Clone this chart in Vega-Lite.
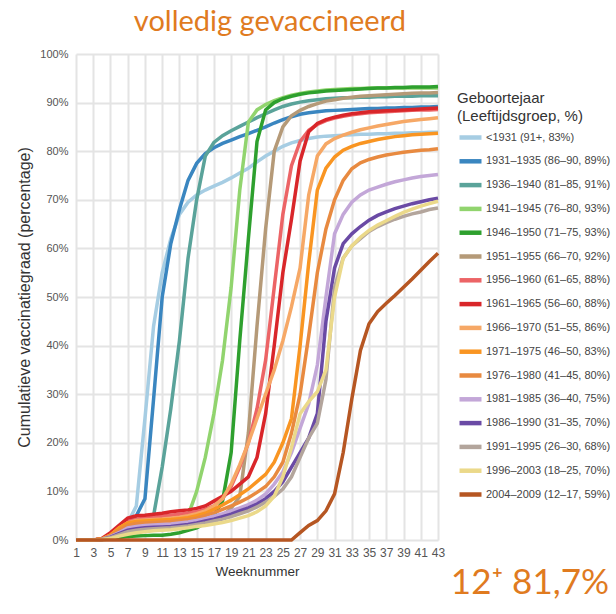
{
"$schema":"https://vega.github.io/schema/vega-lite/v6.json",
"padding":{"left":16,"top":8,"right":5,"bottom":5},
"config":{"view":{"stroke":null},"font":"Liberation Sans"},
"title":{"text":"volledig gevaccineerd","font":"Lato","fontSize":29,"fontWeight":"normal","color":"#e07b1f","anchor":"start","dx":117,"offset":11},
"vconcat":[{
"width":362,"height":486,
"title":{"text":"12⁺ 81,7%","orient":"bottom","anchor":"end","frame":"group","font":"Lato","fontSize":35,"fontWeight":"normal","color":"#e07b1f","dx":171,"offset":-12},
"data":{"values":[
{"s":1,"w":1,"v":0},{"s":1,"w":2,"v":0},{"s":1,"w":3,"v":0},{"s":1,"w":4,"v":0.2},{"s":1,"w":5,"v":0.5},{"s":1,"w":6,"v":1.5},{"s":1,"w":7,"v":3.5},{"s":1,"w":8,"v":7},{"s":1,"w":9,"v":25},{"s":1,"w":10,"v":44},{"s":1,"w":11,"v":55},{"s":1,"w":12,"v":62},{"s":1,"w":13,"v":67},{"s":1,"w":14,"v":69.5},{"s":1,"w":15,"v":71},{"s":1,"w":16,"v":72},{"s":1,"w":17,"v":72.8},{"s":1,"w":18,"v":73.6},{"s":1,"w":19,"v":74.5},{"s":1,"w":20,"v":75.5},{"s":1,"w":21,"v":76.5},{"s":1,"w":22,"v":77.8},{"s":1,"w":23,"v":79},{"s":1,"w":24,"v":80},{"s":1,"w":25,"v":81},{"s":1,"w":26,"v":81.7},{"s":1,"w":27,"v":82.2},{"s":1,"w":28,"v":82.6},{"s":1,"w":29,"v":82.9},{"s":1,"w":30,"v":83.1},{"s":1,"w":31,"v":83.2},{"s":1,"w":32,"v":83.3},{"s":1,"w":33,"v":83.4},{"s":1,"w":34,"v":83.5},{"s":1,"w":35,"v":83.5},{"s":1,"w":36,"v":83.6},{"s":1,"w":37,"v":83.6},{"s":1,"w":38,"v":83.7},{"s":1,"w":39,"v":83.7},{"s":1,"w":40,"v":83.8},{"s":1,"w":41,"v":83.8},{"s":1,"w":42,"v":83.9},{"s":1,"w":43,"v":83.9},
{"s":2,"w":1,"v":0},{"s":2,"w":2,"v":0},{"s":2,"w":3,"v":0},{"s":2,"w":4,"v":0.2},{"s":2,"w":5,"v":0.8},{"s":2,"w":6,"v":2},{"s":2,"w":7,"v":3.3},{"s":2,"w":8,"v":5},{"s":2,"w":9,"v":8.5},{"s":2,"w":10,"v":29},{"s":2,"w":11,"v":50},{"s":2,"w":12,"v":61},{"s":2,"w":13,"v":68},{"s":2,"w":14,"v":74},{"s":2,"w":15,"v":77.5},{"s":2,"w":16,"v":79.5},{"s":2,"w":17,"v":80.7},{"s":2,"w":18,"v":81.6},{"s":2,"w":19,"v":82.3},{"s":2,"w":20,"v":83},{"s":2,"w":21,"v":83.6},{"s":2,"w":22,"v":84.3},{"s":2,"w":23,"v":85},{"s":2,"w":24,"v":85.8},{"s":2,"w":25,"v":86.5},{"s":2,"w":26,"v":87.1},{"s":2,"w":27,"v":87.6},{"s":2,"w":28,"v":87.9},{"s":2,"w":29,"v":88.1},{"s":2,"w":30,"v":88.3},{"s":2,"w":31,"v":88.4},{"s":2,"w":32,"v":88.5},{"s":2,"w":33,"v":88.6},{"s":2,"w":34,"v":88.7},{"s":2,"w":35,"v":88.8},{"s":2,"w":36,"v":88.8},{"s":2,"w":37,"v":88.9},{"s":2,"w":38,"v":88.9},{"s":2,"w":39,"v":89},{"s":2,"w":40,"v":89},{"s":2,"w":41,"v":89.1},{"s":2,"w":42,"v":89.1},{"s":2,"w":43,"v":89.2},
{"s":3,"w":1,"v":0},{"s":3,"w":2,"v":0},{"s":3,"w":3,"v":0},{"s":3,"w":4,"v":0.2},{"s":3,"w":5,"v":0.7},{"s":3,"w":6,"v":1.5},{"s":3,"w":7,"v":2.2},{"s":3,"w":8,"v":2.7},{"s":3,"w":9,"v":3.2},{"s":3,"w":10,"v":5},{"s":3,"w":11,"v":15},{"s":3,"w":12,"v":27},{"s":3,"w":13,"v":41},{"s":3,"w":14,"v":58},{"s":3,"w":15,"v":70},{"s":3,"w":16,"v":79},{"s":3,"w":17,"v":81.8},{"s":3,"w":18,"v":83.2},{"s":3,"w":19,"v":84.2},{"s":3,"w":20,"v":85.1},{"s":3,"w":21,"v":86},{"s":3,"w":22,"v":86.9},{"s":3,"w":23,"v":87.7},{"s":3,"w":24,"v":88.5},{"s":3,"w":25,"v":89.2},{"s":3,"w":26,"v":89.7},{"s":3,"w":27,"v":90.1},{"s":3,"w":28,"v":90.4},{"s":3,"w":29,"v":90.6},{"s":3,"w":30,"v":90.8},{"s":3,"w":31,"v":90.9},{"s":3,"w":32,"v":91},{"s":3,"w":33,"v":91},{"s":3,"w":34,"v":91.1},{"s":3,"w":35,"v":91.1},{"s":3,"w":36,"v":91.2},{"s":3,"w":37,"v":91.2},{"s":3,"w":38,"v":91.3},{"s":3,"w":39,"v":91.3},{"s":3,"w":40,"v":91.3},{"s":3,"w":41,"v":91.4},{"s":3,"w":42,"v":91.4},{"s":3,"w":43,"v":91.4},
{"s":4,"w":1,"v":0},{"s":4,"w":2,"v":0},{"s":4,"w":3,"v":0},{"s":4,"w":4,"v":0.2},{"s":4,"w":5,"v":0.5},{"s":4,"w":6,"v":1},{"s":4,"w":7,"v":1.5},{"s":4,"w":8,"v":2},{"s":4,"w":9,"v":2.2},{"s":4,"w":10,"v":2.4},{"s":4,"w":11,"v":2.6},{"s":4,"w":12,"v":2.9},{"s":4,"w":13,"v":3.4},{"s":4,"w":14,"v":5},{"s":4,"w":15,"v":10},{"s":4,"w":16,"v":17},{"s":4,"w":17,"v":26},{"s":4,"w":18,"v":37},{"s":4,"w":19,"v":52},{"s":4,"w":20,"v":72},{"s":4,"w":21,"v":86},{"s":4,"w":22,"v":88.5},{"s":4,"w":23,"v":89.6},{"s":4,"w":24,"v":90.4},{"s":4,"w":25,"v":91},{"s":4,"w":26,"v":91.5},{"s":4,"w":27,"v":91.9},{"s":4,"w":28,"v":92.2},{"s":4,"w":29,"v":92.4},{"s":4,"w":30,"v":92.6},{"s":4,"w":31,"v":92.7},{"s":4,"w":32,"v":92.8},{"s":4,"w":33,"v":92.9},{"s":4,"w":34,"v":92.9},{"s":4,"w":35,"v":93},{"s":4,"w":36,"v":93},{"s":4,"w":37,"v":93},{"s":4,"w":38,"v":93},{"s":4,"w":39,"v":93},{"s":4,"w":40,"v":93},{"s":4,"w":41,"v":93},{"s":4,"w":42,"v":93},{"s":4,"w":43,"v":93},
{"s":5,"w":1,"v":0},{"s":5,"w":2,"v":0},{"s":5,"w":3,"v":0},{"s":5,"w":4,"v":0.1},{"s":5,"w":5,"v":0.2},{"s":5,"w":6,"v":0.5},{"s":5,"w":7,"v":0.7},{"s":5,"w":8,"v":0.8},{"s":5,"w":9,"v":0.9},{"s":5,"w":10,"v":1},{"s":5,"w":11,"v":1},{"s":5,"w":12,"v":1.2},{"s":5,"w":13,"v":1.5},{"s":5,"w":14,"v":2},{"s":5,"w":15,"v":2.5},{"s":5,"w":16,"v":3.5},{"s":5,"w":17,"v":5},{"s":5,"w":18,"v":8},{"s":5,"w":19,"v":18},{"s":5,"w":20,"v":41},{"s":5,"w":21,"v":62},{"s":5,"w":22,"v":82},{"s":5,"w":23,"v":88.5},{"s":5,"w":24,"v":90},{"s":5,"w":25,"v":90.8},{"s":5,"w":26,"v":91.3},{"s":5,"w":27,"v":91.7},{"s":5,"w":28,"v":92},{"s":5,"w":29,"v":92.2},{"s":5,"w":30,"v":92.4},{"s":5,"w":31,"v":92.5},{"s":5,"w":32,"v":92.6},{"s":5,"w":33,"v":92.7},{"s":5,"w":34,"v":92.8},{"s":5,"w":35,"v":92.9},{"s":5,"w":36,"v":93},{"s":5,"w":37,"v":93},{"s":5,"w":38,"v":93.1},{"s":5,"w":39,"v":93.1},{"s":5,"w":40,"v":93.2},{"s":5,"w":41,"v":93.2},{"s":5,"w":42,"v":93.2},{"s":5,"w":43,"v":93.3},
{"s":6,"w":1,"v":0},{"s":6,"w":2,"v":0},{"s":6,"w":3,"v":0},{"s":6,"w":4,"v":0.2},{"s":6,"w":5,"v":0.5},{"s":6,"w":6,"v":1.2},{"s":6,"w":7,"v":1.8},{"s":6,"w":8,"v":2},{"s":6,"w":9,"v":2.2},{"s":6,"w":10,"v":2.3},{"s":6,"w":11,"v":2.4},{"s":6,"w":12,"v":2.5},{"s":6,"w":13,"v":2.7},{"s":6,"w":14,"v":2.9},{"s":6,"w":15,"v":3.2},{"s":6,"w":16,"v":3.6},{"s":6,"w":17,"v":4.2},{"s":6,"w":18,"v":5},{"s":6,"w":19,"v":6.5},{"s":6,"w":20,"v":9},{"s":6,"w":21,"v":22},{"s":6,"w":22,"v":44},{"s":6,"w":23,"v":64},{"s":6,"w":24,"v":80},{"s":6,"w":25,"v":85},{"s":6,"w":26,"v":87.3},{"s":6,"w":27,"v":88.4},{"s":6,"w":28,"v":89.2},{"s":6,"w":29,"v":89.8},{"s":6,"w":30,"v":90.3},{"s":6,"w":31,"v":90.6},{"s":6,"w":32,"v":90.9},{"s":6,"w":33,"v":91.1},{"s":6,"w":34,"v":91.3},{"s":6,"w":35,"v":91.4},{"s":6,"w":36,"v":91.5},{"s":6,"w":37,"v":91.6},{"s":6,"w":38,"v":91.7},{"s":6,"w":39,"v":91.8},{"s":6,"w":40,"v":91.9},{"s":6,"w":41,"v":92},{"s":6,"w":42,"v":92},{"s":6,"w":43,"v":92.1},
{"s":7,"w":1,"v":0},{"s":7,"w":2,"v":0},{"s":7,"w":3,"v":0},{"s":7,"w":4,"v":0.2},{"s":7,"w":5,"v":1},{"s":7,"w":6,"v":2.5},{"s":7,"w":7,"v":3.8},{"s":7,"w":8,"v":4.3},{"s":7,"w":9,"v":4.5},{"s":7,"w":10,"v":4.7},{"s":7,"w":11,"v":4.9},{"s":7,"w":12,"v":5.1},{"s":7,"w":13,"v":5.3},{"s":7,"w":14,"v":5.5},{"s":7,"w":15,"v":5.8},{"s":7,"w":16,"v":6.3},{"s":7,"w":17,"v":7},{"s":7,"w":18,"v":8.5},{"s":7,"w":19,"v":11},{"s":7,"w":20,"v":15},{"s":7,"w":21,"v":20},{"s":7,"w":22,"v":27},{"s":7,"w":23,"v":37},{"s":7,"w":24,"v":52},{"s":7,"w":25,"v":67},{"s":7,"w":26,"v":77},{"s":7,"w":27,"v":82},{"s":7,"w":28,"v":84.3},{"s":7,"w":29,"v":85.5},{"s":7,"w":30,"v":86.3},{"s":7,"w":31,"v":86.8},{"s":7,"w":32,"v":87.2},{"s":7,"w":33,"v":87.5},{"s":7,"w":34,"v":87.7},{"s":7,"w":35,"v":87.9},{"s":7,"w":36,"v":88},{"s":7,"w":37,"v":88.1},{"s":7,"w":38,"v":88.2},{"s":7,"w":39,"v":88.3},{"s":7,"w":40,"v":88.4},{"s":7,"w":41,"v":88.5},{"s":7,"w":42,"v":88.5},{"s":7,"w":43,"v":88.6},
{"s":8,"w":1,"v":0},{"s":8,"w":2,"v":0},{"s":8,"w":3,"v":0},{"s":8,"w":4,"v":0.3},{"s":8,"w":5,"v":1.5},{"s":8,"w":6,"v":3},{"s":8,"w":7,"v":4.5},{"s":8,"w":8,"v":5},{"s":8,"w":9,"v":5.1},{"s":8,"w":10,"v":5.3},{"s":8,"w":11,"v":5.5},{"s":8,"w":12,"v":5.8},{"s":8,"w":13,"v":6},{"s":8,"w":14,"v":6.2},{"s":8,"w":15,"v":6.5},{"s":8,"w":16,"v":7},{"s":8,"w":17,"v":8},{"s":8,"w":18,"v":9},{"s":8,"w":19,"v":10},{"s":8,"w":20,"v":11.5},{"s":8,"w":21,"v":13},{"s":8,"w":22,"v":17},{"s":8,"w":23,"v":26},{"s":8,"w":24,"v":40},{"s":8,"w":25,"v":55},{"s":8,"w":26,"v":66},{"s":8,"w":27,"v":78},{"s":8,"w":28,"v":84},{"s":8,"w":29,"v":85.7},{"s":8,"w":30,"v":86.5},{"s":8,"w":31,"v":87},{"s":8,"w":32,"v":87.4},{"s":8,"w":33,"v":87.7},{"s":8,"w":34,"v":87.9},{"s":8,"w":35,"v":88.1},{"s":8,"w":36,"v":88.2},{"s":8,"w":37,"v":88.3},{"s":8,"w":38,"v":88.4},{"s":8,"w":39,"v":88.5},{"s":8,"w":40,"v":88.6},{"s":8,"w":41,"v":88.7},{"s":8,"w":42,"v":88.8},{"s":8,"w":43,"v":88.9},
{"s":9,"w":1,"v":0},{"s":9,"w":2,"v":0},{"s":9,"w":3,"v":0},{"s":9,"w":4,"v":0.2},{"s":9,"w":5,"v":1},{"s":9,"w":6,"v":2.5},{"s":9,"w":7,"v":3.5},{"s":9,"w":8,"v":4},{"s":9,"w":9,"v":4.1},{"s":9,"w":10,"v":4.2},{"s":9,"w":11,"v":4.3},{"s":9,"w":12,"v":4.5},{"s":9,"w":13,"v":4.7},{"s":9,"w":14,"v":5},{"s":9,"w":15,"v":5.4},{"s":9,"w":16,"v":6},{"s":9,"w":17,"v":7},{"s":9,"w":18,"v":8.5},{"s":9,"w":19,"v":11.5},{"s":9,"w":20,"v":15.5},{"s":9,"w":21,"v":20},{"s":9,"w":22,"v":25},{"s":9,"w":23,"v":30},{"s":9,"w":24,"v":35},{"s":9,"w":25,"v":41},{"s":9,"w":26,"v":48},{"s":9,"w":27,"v":56},{"s":9,"w":28,"v":71},{"s":9,"w":29,"v":79},{"s":9,"w":30,"v":81.5},{"s":9,"w":31,"v":82.6},{"s":9,"w":32,"v":83.3},{"s":9,"w":33,"v":83.9},{"s":9,"w":34,"v":84.4},{"s":9,"w":35,"v":84.8},{"s":9,"w":36,"v":85.2},{"s":9,"w":37,"v":85.5},{"s":9,"w":38,"v":85.8},{"s":9,"w":39,"v":86.1},{"s":9,"w":40,"v":86.3},{"s":9,"w":41,"v":86.5},{"s":9,"w":42,"v":86.7},{"s":9,"w":43,"v":86.9},
{"s":10,"w":1,"v":0},{"s":10,"w":2,"v":0},{"s":10,"w":3,"v":0},{"s":10,"w":4,"v":0.2},{"s":10,"w":5,"v":1},{"s":10,"w":6,"v":2.5},{"s":10,"w":7,"v":3.5},{"s":10,"w":8,"v":3.8},{"s":10,"w":9,"v":3.9},{"s":10,"w":10,"v":4},{"s":10,"w":11,"v":4.1},{"s":10,"w":12,"v":4.2},{"s":10,"w":13,"v":4.4},{"s":10,"w":14,"v":4.6},{"s":10,"w":15,"v":5},{"s":10,"w":16,"v":5.5},{"s":10,"w":17,"v":6.3},{"s":10,"w":18,"v":7.2},{"s":10,"w":19,"v":8.2},{"s":10,"w":20,"v":9.3},{"s":10,"w":21,"v":10.5},{"s":10,"w":22,"v":12},{"s":10,"w":23,"v":13.5},{"s":10,"w":24,"v":16},{"s":10,"w":25,"v":20},{"s":10,"w":26,"v":25},{"s":10,"w":27,"v":40},{"s":10,"w":28,"v":57},{"s":10,"w":29,"v":72},{"s":10,"w":30,"v":76.5},{"s":10,"w":31,"v":78.8},{"s":10,"w":32,"v":80.2},{"s":10,"w":33,"v":81},{"s":10,"w":34,"v":81.6},{"s":10,"w":35,"v":82},{"s":10,"w":36,"v":82.4},{"s":10,"w":37,"v":82.7},{"s":10,"w":38,"v":83},{"s":10,"w":39,"v":83.2},{"s":10,"w":40,"v":83.4},{"s":10,"w":41,"v":83.5},{"s":10,"w":42,"v":83.6},{"s":10,"w":43,"v":83.7},
{"s":11,"w":1,"v":0},{"s":11,"w":2,"v":0},{"s":11,"w":3,"v":0},{"s":11,"w":4,"v":0.2},{"s":11,"w":5,"v":0.8},{"s":11,"w":6,"v":2},{"s":11,"w":7,"v":3},{"s":11,"w":8,"v":3.4},{"s":11,"w":9,"v":3.5},{"s":11,"w":10,"v":3.6},{"s":11,"w":11,"v":3.7},{"s":11,"w":12,"v":3.8},{"s":11,"w":13,"v":4},{"s":11,"w":14,"v":4.2},{"s":11,"w":15,"v":4.5},{"s":11,"w":16,"v":5},{"s":11,"w":17,"v":5.6},{"s":11,"w":18,"v":6.3},{"s":11,"w":19,"v":7},{"s":11,"w":20,"v":7.8},{"s":11,"w":21,"v":8.7},{"s":11,"w":22,"v":9.8},{"s":11,"w":23,"v":11},{"s":11,"w":24,"v":13},{"s":11,"w":25,"v":16},{"s":11,"w":26,"v":22},{"s":11,"w":27,"v":30},{"s":11,"w":28,"v":42},{"s":11,"w":29,"v":55},{"s":11,"w":30,"v":64},{"s":11,"w":31,"v":70},{"s":11,"w":32,"v":74},{"s":11,"w":33,"v":76.4},{"s":11,"w":34,"v":77.6},{"s":11,"w":35,"v":78.3},{"s":11,"w":36,"v":78.8},{"s":11,"w":37,"v":79.2},{"s":11,"w":38,"v":79.5},{"s":11,"w":39,"v":79.8},{"s":11,"w":40,"v":80},{"s":11,"w":41,"v":80.2},{"s":11,"w":42,"v":80.3},{"s":11,"w":43,"v":80.5},
{"s":12,"w":1,"v":0},{"s":12,"w":2,"v":0},{"s":12,"w":3,"v":0},{"s":12,"w":4,"v":0.1},{"s":12,"w":5,"v":0.7},{"s":12,"w":6,"v":1.5},{"s":12,"w":7,"v":2.5},{"s":12,"w":8,"v":2.8},{"s":12,"w":9,"v":3},{"s":12,"w":10,"v":3.1},{"s":12,"w":11,"v":3.2},{"s":12,"w":12,"v":3.3},{"s":12,"w":13,"v":3.5},{"s":12,"w":14,"v":3.7},{"s":12,"w":15,"v":4},{"s":12,"w":16,"v":4.4},{"s":12,"w":17,"v":4.9},{"s":12,"w":18,"v":5.4},{"s":12,"w":19,"v":6},{"s":12,"w":20,"v":6.6},{"s":12,"w":21,"v":7.3},{"s":12,"w":22,"v":8.2},{"s":12,"w":23,"v":9.5},{"s":12,"w":24,"v":11.5},{"s":12,"w":25,"v":14},{"s":12,"w":26,"v":18},{"s":12,"w":27,"v":23},{"s":12,"w":28,"v":28},{"s":12,"w":29,"v":36},{"s":12,"w":30,"v":50},{"s":12,"w":31,"v":63},{"s":12,"w":32,"v":67},{"s":12,"w":33,"v":69.5},{"s":12,"w":34,"v":71},{"s":12,"w":35,"v":72},{"s":12,"w":36,"v":72.6},{"s":12,"w":37,"v":73.2},{"s":12,"w":38,"v":73.7},{"s":12,"w":39,"v":74.1},{"s":12,"w":40,"v":74.5},{"s":12,"w":41,"v":74.8},{"s":12,"w":42,"v":75},{"s":12,"w":43,"v":75.2},
{"s":13,"w":1,"v":0},{"s":13,"w":2,"v":0},{"s":13,"w":3,"v":0},{"s":13,"w":4,"v":0.1},{"s":13,"w":5,"v":0.6},{"s":13,"w":6,"v":1.3},{"s":13,"w":7,"v":2},{"s":13,"w":8,"v":2.3},{"s":13,"w":9,"v":2.5},{"s":13,"w":10,"v":2.6},{"s":13,"w":11,"v":2.7},{"s":13,"w":12,"v":2.8},{"s":13,"w":13,"v":3},{"s":13,"w":14,"v":3.2},{"s":13,"w":15,"v":3.5},{"s":13,"w":16,"v":3.9},{"s":13,"w":17,"v":4.3},{"s":13,"w":18,"v":4.8},{"s":13,"w":19,"v":5.3},{"s":13,"w":20,"v":6},{"s":13,"w":21,"v":6.6},{"s":13,"w":22,"v":7.4},{"s":13,"w":23,"v":8.5},{"s":13,"w":24,"v":10},{"s":13,"w":25,"v":12},{"s":13,"w":26,"v":15},{"s":13,"w":27,"v":18},{"s":13,"w":28,"v":21},{"s":13,"w":29,"v":26},{"s":13,"w":30,"v":45},{"s":13,"w":31,"v":56},{"s":13,"w":32,"v":61},{"s":13,"w":33,"v":63},{"s":13,"w":34,"v":64.5},{"s":13,"w":35,"v":65.8},{"s":13,"w":36,"v":66.8},{"s":13,"w":37,"v":67.5},{"s":13,"w":38,"v":68.2},{"s":13,"w":39,"v":68.7},{"s":13,"w":40,"v":69.2},{"s":13,"w":41,"v":69.6},{"s":13,"w":42,"v":70},{"s":13,"w":43,"v":70.3},
{"s":14,"w":1,"v":0},{"s":14,"w":2,"v":0},{"s":14,"w":3,"v":0},{"s":14,"w":4,"v":0.1},{"s":14,"w":5,"v":0.5},{"s":14,"w":6,"v":1.1},{"s":14,"w":7,"v":1.7},{"s":14,"w":8,"v":2},{"s":14,"w":9,"v":2.2},{"s":14,"w":10,"v":2.3},{"s":14,"w":11,"v":2.4},{"s":14,"w":12,"v":2.5},{"s":14,"w":13,"v":2.7},{"s":14,"w":14,"v":2.9},{"s":14,"w":15,"v":3.2},{"s":14,"w":16,"v":3.5},{"s":14,"w":17,"v":3.9},{"s":14,"w":18,"v":4.3},{"s":14,"w":19,"v":4.8},{"s":14,"w":20,"v":5.4},{"s":14,"w":21,"v":6},{"s":14,"w":22,"v":6.8},{"s":14,"w":23,"v":7.8},{"s":14,"w":24,"v":9},{"s":14,"w":25,"v":10.5},{"s":14,"w":26,"v":13},{"s":14,"w":27,"v":17},{"s":14,"w":28,"v":21},{"s":14,"w":29,"v":24},{"s":14,"w":30,"v":33},{"s":14,"w":31,"v":52},{"s":14,"w":32,"v":58},{"s":14,"w":33,"v":60.5},{"s":14,"w":34,"v":62},{"s":14,"w":35,"v":63.5},{"s":14,"w":36,"v":64.5},{"s":14,"w":37,"v":65.3},{"s":14,"w":38,"v":66},{"s":14,"w":39,"v":66.6},{"s":14,"w":40,"v":67.1},{"s":14,"w":41,"v":67.5},{"s":14,"w":42,"v":68},{"s":14,"w":43,"v":68.3},
{"s":15,"w":1,"v":0},{"s":15,"w":2,"v":0},{"s":15,"w":3,"v":0},{"s":15,"w":4,"v":0.1},{"s":15,"w":5,"v":0.3},{"s":15,"w":6,"v":0.8},{"s":15,"w":7,"v":1.2},{"s":15,"w":8,"v":1.5},{"s":15,"w":9,"v":1.7},{"s":15,"w":10,"v":1.9},{"s":15,"w":11,"v":2},{"s":15,"w":12,"v":2.1},{"s":15,"w":13,"v":2.3},{"s":15,"w":14,"v":2.5},{"s":15,"w":15,"v":2.8},{"s":15,"w":16,"v":3},{"s":15,"w":17,"v":3.3},{"s":15,"w":18,"v":3.6},{"s":15,"w":19,"v":4},{"s":15,"w":20,"v":4.5},{"s":15,"w":21,"v":5},{"s":15,"w":22,"v":5.8},{"s":15,"w":23,"v":7},{"s":15,"w":24,"v":9},{"s":15,"w":25,"v":13},{"s":15,"w":26,"v":19},{"s":15,"w":27,"v":26},{"s":15,"w":28,"v":28.5},{"s":15,"w":29,"v":30.5},{"s":15,"w":30,"v":35},{"s":15,"w":31,"v":50},{"s":15,"w":32,"v":58},{"s":15,"w":33,"v":60.5},{"s":15,"w":34,"v":62.3},{"s":15,"w":35,"v":63.7},{"s":15,"w":36,"v":64.8},{"s":15,"w":37,"v":65.7},{"s":15,"w":38,"v":66.6},{"s":15,"w":39,"v":67.4},{"s":15,"w":40,"v":68.1},{"s":15,"w":41,"v":68.7},{"s":15,"w":42,"v":69.2},{"s":15,"w":43,"v":69.7},
{"s":16,"w":1,"v":0},{"s":16,"w":2,"v":0},{"s":16,"w":3,"v":0},{"s":16,"w":4,"v":0},{"s":16,"w":5,"v":0},{"s":16,"w":6,"v":0},{"s":16,"w":7,"v":0},{"s":16,"w":8,"v":0},{"s":16,"w":9,"v":0},{"s":16,"w":10,"v":0},{"s":16,"w":11,"v":0},{"s":16,"w":12,"v":0},{"s":16,"w":13,"v":0},{"s":16,"w":14,"v":0},{"s":16,"w":15,"v":0},{"s":16,"w":16,"v":0},{"s":16,"w":17,"v":0},{"s":16,"w":18,"v":0},{"s":16,"w":19,"v":0},{"s":16,"w":20,"v":0},{"s":16,"w":21,"v":0},{"s":16,"w":22,"v":0},{"s":16,"w":23,"v":0},{"s":16,"w":24,"v":0},{"s":16,"w":25,"v":0},{"s":16,"w":26,"v":0},{"s":16,"w":27,"v":1.5},{"s":16,"w":28,"v":3},{"s":16,"w":29,"v":4},{"s":16,"w":30,"v":6},{"s":16,"w":31,"v":9.5},{"s":16,"w":32,"v":18},{"s":16,"w":33,"v":29},{"s":16,"w":34,"v":39},{"s":16,"w":35,"v":44.5},{"s":16,"w":36,"v":47},{"s":16,"w":37,"v":48.7},{"s":16,"w":38,"v":50.3},{"s":16,"w":39,"v":52},{"s":16,"w":40,"v":53.7},{"s":16,"w":41,"v":55.5},{"s":16,"w":42,"v":57.3},{"s":16,"w":43,"v":59}
]},
"mark":{"type":"line","strokeWidth":3.5},
"encoding":{
"x":{"field":"w","type":"quantitative","scale":{"domain":[1,43],"nice":false,"zero":false},
"axis":{"values":[1,3,5,7,9,11,13,15,17,19,21,23,25,27,29,31,33,35,37,39,41,43],"title":"Weeknummer","grid":true,"gridColor":"#e4e4e4","gridWidth":2,"domain":false,"ticks":false,"labelFont":"Liberation Sans","labelFontSize":12,"labelColor":"#555555","labelPadding":7,"labelFlush":false,"titleFont":"Liberation Sans","titleFontSize":13.5,"titleFontWeight":"normal","titleColor":"#333333","titlePadding":6}},
"y":{"field":"v","type":"quantitative","scale":{"domain":[0,100],"nice":false},
"axis":{"values":[0,10,20,30,40,50,60,70,80,90,100],"labelExpr":"datum.value + '%'","title":"Cumulatieve vaccinatiegraad (percentage)","grid":true,"gridColor":"#e4e4e4","gridWidth":2,"domain":false,"ticks":false,"labelFont":"Liberation Sans","labelFontSize":11,"labelColor":"#555555","labelPadding":8,"labelFlush":false,"titleFont":"Liberation Sans","titleFontSize":16,"titleFontWeight":"normal","titleColor":"#333333","titlePadding":7}},
"color":{"field":"s","type":"nominal","scale":{"domain":[1,2,3,4,5,6,7,8,9,10,11,12,13,14,15,16],"range":["#a6cde3","#3a86c0","#5aa39a","#91d46e","#2ea02e","#b59a78","#ec6466","#d9262a","#f6a866","#f99522","#e88a40","#c3a7d8","#6a4aa5","#b3a59c","#ebd98a","#b65622"]},
"legend":{"orient":"none","legendX":381,"legendY":37,"title":["Geboortejaar","(Leeftijdsgroep, %)"],"titleFont":"Liberation Sans","titleFontSize":15,"titleFontWeight":"normal","titleColor":"#333333","titleLineHeight":18,"titlePadding":0,"symbolType":"stroke","symbolStrokeWidth":4.5,"symbolSize":484,"labelFont":"Liberation Sans","labelFontSize":11,"labelColor":"#444444","labelOffset":2,"rowPadding":0.8,
"labelExpr":"['<1931 (91+, 83%)','1931–1935 (86–90, 89%)','1936–1940 (81–85, 91%)','1941–1945 (76–80, 93%)','1946–1950 (71–75, 93%)','1951–1955 (66–70, 92%)','1956–1960 (61–65, 88%)','1961–1965 (56–60, 88%)','1966–1970 (51–55, 86%)','1971–1975 (46–50, 83%)','1976–1980 (41–45, 80%)','1981–1985 (36–40, 75%)','1986–1990 (31–35, 70%)','1991–1995 (26–30, 68%)','1996–2003 (18–25, 70%)','2004–2009 (12–17, 59%)'][datum.value - 1]"}}
}
}]
}
